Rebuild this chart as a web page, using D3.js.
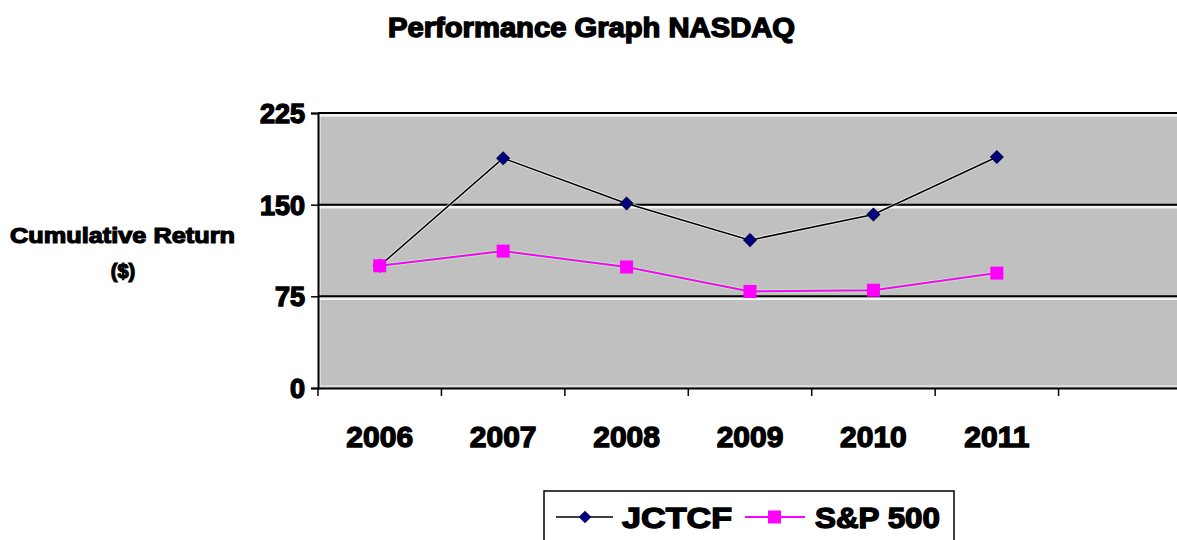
<!DOCTYPE html>
<html><head><meta charset="utf-8">
<script src="https://cdn.jsdelivr.net/npm/d3@7"></script>
<style>body{margin:0;background:#fff}svg{display:block}text{font-family:"Liberation Sans",Arial,sans-serif;font-weight:bold;fill:#000}</style>
</head><body><svg id="c" width="1177" height="540"></svg>
<script>
const categories = ["2006","2007","2008","2009","2010","2011",""];
const jctcf = [100,188,151,121,142,189];
const sp500 = [100,112,99,79,80,94];
const yTicks = [0,75,150,225];
const seriesNames = ["JCTCF","S&P 500"];

const svg = d3.select("#c");
const L=318, R=1182, T=113, B=388;
const x = d3.scaleBand().domain(categories.map((d,i)=>i)).range([L,R]).padding(0);
const y = d3.scaleLinear().domain([0,225]).range([B,T]);
const cx = i => x(i)+x.bandwidth()/2;
const SW = 1.4;

svg.append("rect").attr("x",L).attr("y",T).attr("width",R-L).attr("height",B-T).attr("fill","#c0c0c0");
svg.append("rect").attr("x",L+2).attr("y",T+2).attr("width",R-L-4).attr("height",B-T-4).attr("fill","none").attr("stroke","#e4e4e4").attr("stroke-width",1.5);

// gridlines
yTicks.filter(d=>d>0).forEach(v=>{
  svg.append("line").attr("x1",L).attr("x2",R).attr("y1",y(v)+2.5).attr("y2",y(v)+2.5).attr("stroke","#f4f4f4").attr("stroke-width",2.5);
  svg.append("line").attr("x1",L).attr("x2",R).attr("y1",y(v)).attr("y2",y(v)).attr("stroke","#000").attr("stroke-width",2);
});

// y axis
const ya = svg.append("g").attr("transform",`translate(${L},0)`)
  .call(d3.axisLeft(y).tickValues(yTicks).tickSize(7).tickPadding(6));
ya.select(".domain").attr("stroke","#000").attr("stroke-width",2);
ya.selectAll(".tick line").attr("stroke","#000").attr("stroke-width",1.5);
ya.selectAll(".tick text").attr("font-size",27).attr("font-family","Liberation Sans, Arial, sans-serif").attr("font-weight","bold").attr("stroke","#000").attr("stroke-width",SW).attr("dy","0.35em");

// x axis
const xa = svg.append("g").attr("transform",`translate(0,${B})`)
  .call(d3.axisBottom(x).tickSize(0).tickFormat(i=>categories[i]).tickPadding(38));
xa.select(".domain").attr("stroke","#000").attr("stroke-width",2);
xa.selectAll(".tick text").attr("font-size",30).attr("font-family","Liberation Sans, Arial, sans-serif").attr("font-weight","bold").attr("stroke","#000").attr("stroke-width",SW);
// category boundary ticks
svg.append("g").selectAll("line").data(d3.range(categories.length+1)).join("line")
  .attr("x1",i=>L+i*x.bandwidth()).attr("x2",i=>L+i*x.bandwidth())
  .attr("y1",B).attr("y2",B+8).attr("stroke","#000").attr("stroke-width",1.5);

const line = d3.line().x((d,i)=>cx(i)).y(d=>y(d));
// JCTCF
svg.append("path").datum(jctcf).attr("d",line).attr("fill","none").attr("stroke","#fff").attr("stroke-width",3.5).attr("opacity",0.6);
svg.append("path").datum(jctcf).attr("d",line).attr("fill","none").attr("stroke","#000").attr("stroke-width",1.5);
// S&P
svg.append("path").datum(sp500).attr("d",line).attr("fill","none").attr("stroke","#aaffaa").attr("stroke-width",4).attr("opacity",0.7);
svg.append("path").datum(sp500).attr("d",line).attr("fill","none").attr("stroke","#ff00ff").attr("stroke-width",2);

const diamond = d3.symbol().type(d3.symbolSquare).size(80);
svg.append("g").selectAll("path").data(jctcf).join("path")
  .attr("transform",(d,i)=>`translate(${cx(i)},${y(d)}) rotate(45)`).attr("d",diamond).attr("fill","#000080").attr("stroke","#000040").attr("stroke-width",1);
svg.append("g").selectAll("rect").data(sp500).join("rect")
  .attr("x",(d,i)=>cx(i)-6.5).attr("y",d=>y(d)-6.5).attr("width",13).attr("height",13).attr("fill","#ff00ff");

// title
svg.append("text").attr("x",388).attr("y",37).attr("font-size",27).attr("textLength",407).attr("lengthAdjust","spacingAndGlyphs").attr("stroke","#000").attr("stroke-width",SW).text("Performance Graph NASDAQ");
// y label
svg.append("text").attr("x",10).attr("y",243).attr("font-size",22).attr("textLength",225).attr("lengthAdjust","spacingAndGlyphs").attr("stroke","#000").attr("stroke-width",1.2).text("Cumulative Return");
svg.append("text").attr("x",123).attr("y",278).attr("text-anchor","middle").attr("font-size",20).attr("stroke","#000").attr("stroke-width",1.2).text("($)");

// legend
const lg = svg.append("g");
lg.append("rect").attr("x",544).attr("y",491).attr("width",410).attr("height",60).attr("fill","#fff").attr("stroke","#000").attr("stroke-width",1.5);
const ly = 517;
lg.append("line").attr("x1",556).attr("x2",613).attr("y1",ly).attr("y2",ly).attr("stroke","#000").attr("stroke-width",1.5);
lg.append("path").attr("transform",`translate(585,${ly}) rotate(45)`).attr("d",diamond).attr("fill","#000080");
lg.append("text").attr("x",622).attr("y",ly+11).attr("font-size",30).attr("textLength",110).attr("lengthAdjust","spacingAndGlyphs").attr("stroke","#000").attr("stroke-width",SW).text(seriesNames[0]);
lg.append("line").attr("x1",745).attr("x2",805).attr("y1",ly).attr("y2",ly).attr("stroke","#ff00ff").attr("stroke-width",2);
lg.append("rect").attr("x",768).attr("y",ly-6.5).attr("width",13).attr("height",13).attr("fill","#ff00ff");
lg.append("text").attr("x",815).attr("y",ly+11).attr("font-size",30).attr("textLength",125).attr("lengthAdjust","spacingAndGlyphs").attr("stroke","#000").attr("stroke-width",SW).text(seriesNames[1]);
</script></body></html>
